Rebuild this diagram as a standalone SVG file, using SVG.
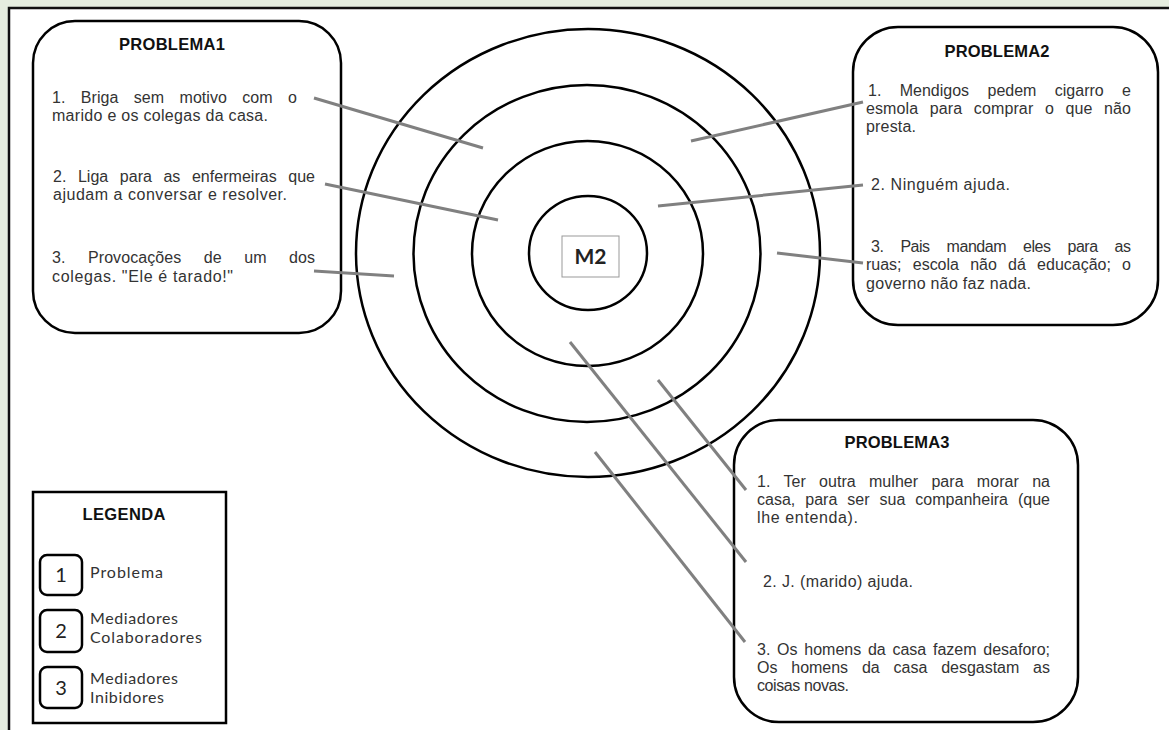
<svg xmlns="http://www.w3.org/2000/svg" width="1169" height="730" viewBox="0 0 1169 730">
<style>
.box{fill:#fff;stroke:#000;stroke-width:2.5}
.ring{fill:none;stroke:#000;stroke-width:2.5}
.t{font-family:"Liberation Sans",Arial,sans-serif;font-size:16px;fill:#333}
.h{font-family:"Liberation Sans",Arial,sans-serif;font-size:16.5px;font-weight:bold;fill:#111;text-anchor:middle}
.lg{font-family:Lato,"Liberation Sans",sans-serif;font-size:16px;fill:#333}
.num{font-family:Lato,"Liberation Sans",sans-serif;font-size:20px;fill:#222;text-anchor:middle}
.con line{stroke:#808080;stroke-width:3}
</style>
<rect x="0" y="0" width="1169" height="730" fill="#e6eee0"/>
<rect x="9" y="8" width="1170" height="730" fill="#fff" stroke="#111" stroke-width="2.5"/>

<g id="target">
<ellipse class="ring" cx="588" cy="253" rx="232" ry="224"/>
<ellipse class="ring" cx="587" cy="253.5" rx="173.5" ry="168.5"/>
<ellipse class="ring" cx="587.5" cy="253.5" rx="115.5" ry="112.5"/>
<ellipse class="ring" cx="588" cy="253" rx="59" ry="57"/>
</g>
<g id="m2">
<rect x="562" y="236" width="57" height="41" fill="#fff" stroke="#999" stroke-width="1"/>
<text x="590.5" y="264" font-family="Lato,'Liberation Sans',sans-serif" font-size="21" font-weight="bold" fill="#222" text-anchor="middle">M2</text>
</g>

<g id="problema1">
<rect class="box" x="33" y="21" width="308" height="312" rx="42"/>
<text class="h" x="172" y="50" textLength="106" lengthAdjust="spacing">PROBLEMA1</text>
<text class="t" x="52" y="103" word-spacing="11" textLength="245" lengthAdjust="spacing">1. Briga sem motivo com o</text>
<text class="t" x="52" y="121" textLength="216" lengthAdjust="spacing">marido e os colegas da casa.</text>
<text class="t" x="53" y="182" word-spacing="7" textLength="262" lengthAdjust="spacing">2. Liga para as enfermeiras que</text>
<text class="t" x="53" y="200" textLength="234" lengthAdjust="spacing">ajudam a conversar e resolver.</text>
<text class="t" x="52" y="263" word-spacing="18" textLength="263" lengthAdjust="spacing">3. Provocações de um dos</text>
<text class="t" x="52" y="282" textLength="181" lengthAdjust="spacing">colegas. "Ele é tarado!"</text>
</g>

<g id="problema2">
<rect class="box" x="853" y="27" width="305" height="298" rx="45"/>
<text class="h" x="997" y="57" textLength="105" lengthAdjust="spacing">PROBLEMA2</text>
<text class="t" x="868" y="96" word-spacing="14" textLength="263" lengthAdjust="spacing">1. Mendigos pedem cigarro e</text>
<text class="t" x="866" y="114" word-spacing="7" textLength="265" lengthAdjust="spacing">esmola para comprar o que não</text>
<text class="t" x="866" y="132" textLength="50" lengthAdjust="spacing">presta.</text>
<text class="t" x="871" y="190" textLength="139" lengthAdjust="spacing">2. Ninguém ajuda.</text>
<text class="t" x="871" y="252" word-spacing="13" textLength="260" lengthAdjust="spacing">3. Pais mandam eles para as</text>
<text class="t" x="866" y="270" word-spacing="6.8" textLength="265" lengthAdjust="spacing">ruas; escola não dá educação; o</text>
<text class="t" x="866" y="289" textLength="165" lengthAdjust="spacing">governo não faz nada.</text>
</g>

<g id="problema3">
<rect class="box" x="734" y="420" width="344" height="302" rx="45"/>
<text class="h" x="897" y="448" textLength="105" lengthAdjust="spacing">PROBLEMA3</text>
<text class="t" x="757" y="487" word-spacing="8.7" textLength="293" lengthAdjust="spacing">1. Ter outra mulher para morar na</text>
<text class="t" x="757" y="505" word-spacing="5.5" textLength="293" lengthAdjust="spacing">casa, para ser sua companheira (que</text>
<text class="t" x="757" y="523" textLength="101" lengthAdjust="spacing">lhe entenda).</text>
<text class="t" x="763" y="587" textLength="150" lengthAdjust="spacing">2. J. (marido) ajuda.</text>
<text class="t" x="757" y="655" word-spacing="2.3" textLength="293" lengthAdjust="spacing">3. Os homens da casa fazem desaforo;</text>
<text class="t" x="757" y="673" word-spacing="9.4" textLength="293" lengthAdjust="spacing">Os homens da casa desgastam as</text>
<text class="t" x="757" y="691" textLength="92" lengthAdjust="spacing">coisas novas.</text>
</g>

<g id="legenda">
<rect x="33" y="492" width="193" height="231" fill="#fff" stroke="#000" stroke-width="2.5"/>
<text class="h" x="124" y="520" textLength="83" lengthAdjust="spacing">LEGENDA</text>
<rect class="box" x="40" y="555" width="42" height="40" rx="7"/>
<text class="num" x="61" y="582">1</text>
<text class="lg" x="90" y="578" textLength="73" lengthAdjust="spacing">Problema</text>
<rect class="box" x="40" y="610" width="42" height="42" rx="7"/>
<text class="num" x="61" y="638">2</text>
<text class="lg" x="90" y="624" textLength="88" lengthAdjust="spacing">Mediadores</text>
<text class="lg" x="90" y="643" textLength="112" lengthAdjust="spacing">Colaboradores</text>
<rect class="box" x="40" y="667" width="42" height="41" rx="7"/>
<text class="num" x="61" y="695">3</text>
<text class="lg" x="90" y="684" textLength="88" lengthAdjust="spacing">Mediadores</text>
<text class="lg" x="90" y="703" textLength="74" lengthAdjust="spacing">Inibidores</text>
</g>

<g id="connectors" class="con">
<line x1="314" y1="98" x2="483" y2="148"/>
<line x1="325" y1="184" x2="498" y2="220"/>
<line x1="314" y1="271" x2="394" y2="276"/>
<line x1="691" y1="141" x2="863" y2="102"/>
<line x1="658" y1="206" x2="863" y2="185"/>
<line x1="777" y1="253" x2="863" y2="263"/>
<line x1="658" y1="380" x2="746" y2="490"/>
<line x1="570" y1="342" x2="746" y2="562"/>
<line x1="595" y1="452" x2="745" y2="642"/>
</g>
</svg>
